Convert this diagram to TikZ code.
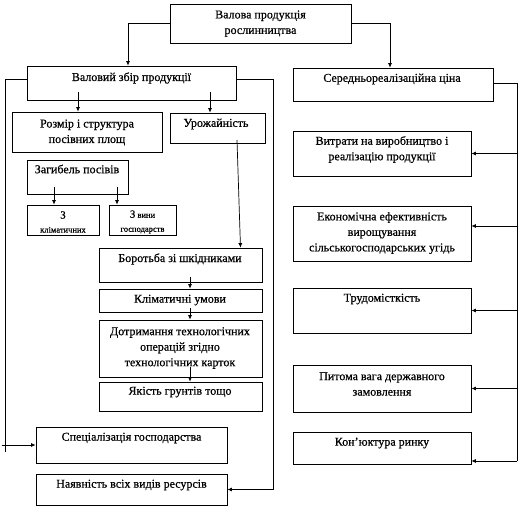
\documentclass[tikz,border=0pt]{standalone}
\usepackage{fontspec}
\setmainfont{Liberation Serif}[FakeBold=0.6]
\usetikzlibrary{fit,arrows.meta,calc}
\begin{document}
\begin{tikzpicture}[x=1pt,y=-1pt,
  box/.style={draw=black, line width=0.7pt, inner sep=0pt},
  txt/.style={font=\fontsize{12}{15.5}\selectfont, align=center, inner sep=0pt},
  small/.style={font=\fontsize{8.5}{10}\selectfont, align=center, inner sep=0pt},
  link/.style={line width=0.7pt},
  arr/.style={link, -{Latex[length=4.5pt,width=4pt]}}]
\useasboundingbox (0,0) rectangle (520,508);
% boxes
\node[box, fit={(170,4) (351,43)}] (top) {};
\node[txt] (topT) at (260.5,23.5) {Валова продукція\\рослинництва};
\node[box, fit={(27,66) (236,100)}] (val) {};
\node[txt] (valT) at (131.5,78) {Валовий збір продукції};
\node[box, fit={(293,68) (493,101)}] (ser) {};
\node[txt] (serT) at (392,79) {Середньореалізаційна ціна};
\node[box, fit={(12,112) (162,152)}] (roz) {};
\node[txt] (rozT) at (87,132.5) {Розмір і структура\\посівних площ};
\node[box, fit={(170,113) (265,143)}] (uro) {};
\node[txt] (uroT) at (216,124) {Урожайність};
\node[box, fit={(27,160) (128,194)}] (zag) {};
\node[txt] (zagT) at (77,169) {Загибель посівів};
\node[box, fit={(27,205) (99,235)}] (klm) {};
\node[small] (klmT) at (63,222) {{\fontsize{11}{13}\selectfont З}\\[4pt]кліматичних};
\node[box, fit={(109,205) (176,235)}] (vin) {};
\node[small] (vinT) at (142.5,222) {{\fontsize{11}{13}\selectfont З} вини\\[4pt]господарств};
\node[box, fit={(99,248) (262,282)}] (bor) {};
\node[txt] (borT) at (180,259) {Боротьба зі шкідниками};
\node[box, fit={(99,289) (262,312)}] (kli) {};
\node[txt] (kliT) at (180,300) {Кліматичні умови};
\node[box, fit={(99,320) (262,377)}] (dot) {};
\node[txt] (dotT) at (180,348) {Дотримання технологічних\\операцій згідно\\технологічних карток};
\node[box, fit={(99,382) (262,411)}] (yak) {};
\node[txt] (yakT) at (180,392) {Якість грунтів тощо};
\node[box, fit={(36,427) (227,463)}] (spe) {};
\node[txt] (speT) at (131.5,438) {Спеціалізація господарства};
\node[box, fit={(36,474) (227,505)}] (nay) {};
\node[txt] (nayT) at (131.5,485) {Наявність всіх видів ресурсів};
\node[box, fit={(293,131) (471,176)}] (vyt) {};
\node[txt] (vytT) at (382,149.5) {Витрати на виробництво і\\реалізацію продукції};
\node[box, fit={(293,206) (471,261)}] (eko) {};
\node[txt] (ekoT) at (382,233) {Економічна ефективність\\вирощування\\сільськогосподарських угідь};
\node[box, fit={(293,288) (471,333)}] (tru) {};
\node[txt] (truT) at (382,299) {Трудомісткість};
\node[box, fit={(293,365) (471,412)}] (pyt) {};
\node[txt] (pytT) at (382,384) {Питома вага державного\\замовлення};
\node[box, fit={(293,432) (471,464)}] (kon) {};
\node[txt] (konT) at (382,443) {Кон’юктура ринку};
% connectors
\coordinate (c1) at (128,24);
\coordinate (c2) at (390,24);
\draw[arr] (top.west) -| (c1 |- val.north);
\draw[arr] (top.east) -| (c2 |- ser.north);
\coordinate (c3) at (78,92);
\coordinate (c4) at (210,92);
\draw[arr] (c3) -- (c3 |- roz.north);
\draw[arr] (c4) -- (c4 |- uro.north);
\coordinate (c5) at (54,187);
\coordinate (c6) at (117,187);
\draw[arr] (c5) -- (c5 |- klm.north);
\draw[arr] (c6) -- (c6 |- vin.north);
\coordinate (c7) at (237,140);
\coordinate (c8) at ($(bor.north)+(60,0)$);
\draw[arr] (c7) -- (c8);
\coordinate (c9) at (190,277);
\coordinate (c10) at (190,308);
\coordinate (c11) at (190,367);
\draw[arr] (c9) -- (c9 |- kli.north);
\draw[arr] (c10) -- (c10 |- dot.north);
\draw[arr] (c11) -- (c11 |- yak.north);
% left loop
\coordinate (L) at (5,79);
\coordinate (L2) at (2,445);
\coordinate (L3) at (5,452);
\draw[link] (val.west |- L) -- (L) -- (L3);
\draw[arr] (L2) -- (spe.west);
% right loop of left column
\coordinate (R) at (273,79);
\draw[arr] (val.east |- R) -- (R) |- (nay.east);
% right column
\coordinate (S) at (517,83);
\coordinate (S2) at (517,461);
\draw[link] (ser.east |- S) -- (S) -- (S2);
\draw[arr] (S |- vyt.east) -- (vyt.east);
\draw[arr] (S |- 0,226) -- (eko.east |- 0,226);
\draw[arr] (S |- tru.east) -- (tru.east);
\draw[arr] (S |- pyt.east) -- (pyt.east);
\draw[arr] (S2) -- (kon.east |- S2);
\end{tikzpicture}
\end{document}
